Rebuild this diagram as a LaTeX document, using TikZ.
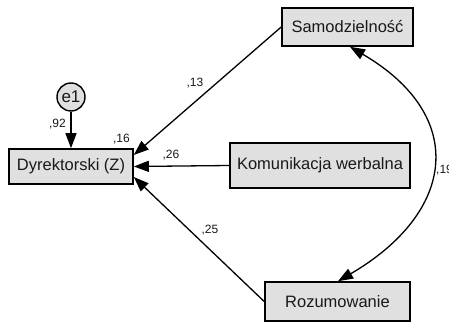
\documentclass[tikz,border=0pt]{standalone}
\usepackage{fontspec}
\setmainfont{Liberation Sans}
\usetikzlibrary{arrows.meta}
\begin{document}
\begin{tikzpicture}[x=1pt,y=-1pt,
  varbox/.style={draw=black,line width=1.6pt,fill=black!12,inner sep=0pt,
    font=\fontsize{16.5}{18}\selectfont,text=black!90},
  errcirc/.style={draw=black,line width=1.4pt,fill=black!12,circle,inner sep=0pt,
    minimum size=28pt,font=\fontsize{17}{18}\selectfont,text=black!90},
  path/.style={line width=1.3pt,-{Triangle[length=15pt,width=11pt]}},
  cov/.style={line width=1.3pt,{Triangle[length=15pt,width=11pt]}-{Triangle[length=15pt,width=11pt]}},
  coef/.style={font=\fontsize{12}{13}\selectfont,text=black!90,inner sep=0pt}]
\useasboundingbox (0,0) rectangle (449,323);
\fill[white] (0,0) rectangle (449,323);
\node[varbox,minimum width=124pt,minimum height=35pt] (dyr) at (71,166.5) {Dyrektorski (Z)};
\node[varbox,minimum width=131pt,minimum height=38pt] (sam) at (347.5,27) {Samodzielność};
\node[varbox,minimum width=180pt,minimum height=45pt] (kom) at (320,165.5) {Komunikacja werbalna};
\node[varbox,minimum width=145pt,minimum height=39pt] (roz) at (337.5,301.5) {Rozumowanie};
\node[errcirc] (e1) at (71,97) {e1};
\draw[path] (e1.south) -- (dyr.north);
\draw[path] (sam.west) -- ([yshift=11.5pt]dyr.east);
\draw[path] (kom.west) -- (dyr.east);
\draw[path] (roz.west) -- ([yshift=-10.5pt]dyr.east);
\draw[cov] ([xshift=2.5pt]sam.south) .. controls +(118,69) and +(118,-69) .. ([xshift=0.5pt]roz.north);
\node[coef] (c92) at (57.5,124) {,92};
\node[coef] (c16) at (121.5,139) {,16};
\node[coef] (c13) at (195,83) {,13};
\node[coef] (c26) at (171,155) {,26};
\node[coef] (c25) at (210,230) {,25};
\node[coef,anchor=west] (c19) at (436,170) {,19};
\end{tikzpicture}
\end{document}
